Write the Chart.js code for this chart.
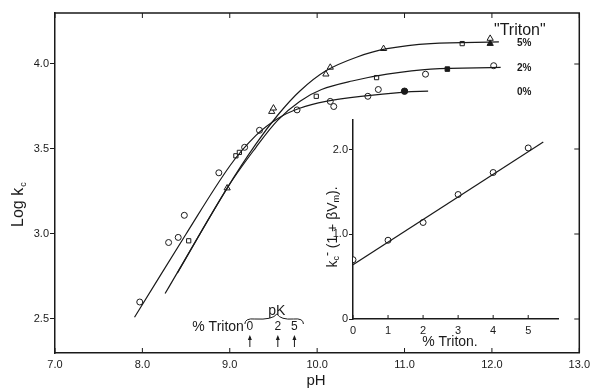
<!DOCTYPE html>
<html>
<head>
<meta charset="utf-8">
<script src="https://cdn.jsdelivr.net/npm/chart.js@4"></script>
<style>
    body { margin: 0; background: #fff; }
    #wrap { position: relative; width: 595px; height: 390px; }
    #mainChart { position: absolute; left: 0; top: 0; }
    #insetChart { position: absolute; left: 300px; top: 100px; }
</style>
</head>
<body>
<div id="wrap">
    <canvas id="mainChart" width="595" height="390"></canvas>
    <canvas id="insetChart" width="280" height="260"></canvas>
</div>
<script>
// main plot: Log k vs pH
const phTicks = [7, 8, 9, 10, 11, 12, 13];
const logkTicks = [2.5, 3.0, 3.5, 4.0];
const tritonLabels = ['5%', '2%', '0%'];
const tritonLabelLogk = [4.13, 3.98, 3.84];

// drawn curves [pH, log k]
const curve0 = [[7.91, 2.51], [8.5, 3.00], [9.0, 3.40], [9.3, 3.58], [9.55, 3.68], [9.8, 3.74], [10.1, 3.78],
    [10.5, 3.81], [11.0, 3.835], [11.27, 3.84]];
const curve2 = [[8.4, 2.77], [8.97, 3.27], [9.3, 3.51], [9.55, 3.67], [9.8, 3.78], [10.05, 3.85],
    [10.4, 3.90], [10.8, 3.94], [11.3, 3.97], [12.1, 3.98]];
const curve5 = [[8.26, 2.65], [8.97, 3.27], [9.3, 3.53], [9.55, 3.70], [9.8, 3.84], [10.1, 3.96],
    [10.45, 4.04], [10.8, 4.09], [11.3, 4.12], [12.08, 4.13]];

// measured points
const openCircles = [[7.97, 2.60], [8.30, 2.95], [8.41, 2.98], [8.48, 3.11], [8.875, 3.36], [9.17, 3.51],
    [9.34, 3.61], [9.77, 3.73], [10.15, 3.78], [10.19, 3.75], [10.58, 3.81], [10.70, 3.85], [11.24, 3.94], [12.02, 3.99]];
const openSquares = [[8.53, 2.96], [9.07, 3.46], [9.11, 3.48], [9.99, 3.81], [10.68, 3.92], [11.66, 4.12]];
const openTriangles = [[8.97, 3.27], [9.48, 3.72], [9.50, 3.74], [10.10, 3.94], [10.15, 3.98], [10.76, 4.09], [11.98, 4.15]];
const filledCircles = [[11.0, 3.84]];
const filledSquares = [[11.49, 3.97]];
const filledTriangles = [[11.98, 4.12]];

// pK arrows
const pKTriton = ['0', '2', '5'];
const pKValues = [9.23, 9.55, 9.74];

// inset: kc - (1 + beta Vm) vs % Triton
const insetTicksX = [0, 1, 2, 3, 4, 5];
const insetTicksY = [0, 1.0, 2.0];
const insetTriton = [0, 1, 2, 3, 4, 5];
const insetValues = [0.70, 0.93, 1.14, 1.47, 1.73, 2.02];
const insetFit = [[0, 0.64], [5.43, 2.09]];

const FONT = '"Liberation Sans", Arial, sans-serif';
const INK = '#1a1a1a';

function pts(arr) {
    return arr.map(p => ({ x: p[0], y: p[1] }));
}

function curveSet(arr) {
    return {
        data: pts(arr),
        showLine: true,
        borderColor: INK,
        borderWidth: 1.2,
        pointRadius: 0,
        tension: 0.35,
        fill: false
    };
}

function markSet(arr, style, filled, r) {
    return {
        data: pts(arr),
        showLine: false,
        pointStyle: style,
        pointRadius: r,
        pointBorderColor: INK,
        pointBackgroundColor: filled ? INK : '#fff',
        pointBorderWidth: 1
    };
}

function fixedTicks(values) {
    return function(scale) {
        scale.ticks = values.map(v => ({ value: v }));
    };
}

const mainDecor = {
    id: 'mainDecor',
    afterDraw(chart) {
        const ctx = chart.ctx;
        const a = chart.chartArea;
        const xs = chart.scales.x;
        const ys = chart.scales.y;
        ctx.save();
        ctx.strokeStyle = INK;
        ctx.fillStyle = INK;

        // frame top and right
        ctx.lineWidth = 1.5;
        ctx.beginPath();
        ctx.moveTo(a.left, a.top);
        ctx.lineTo(a.right, a.top);
        ctx.lineTo(a.right, a.bottom);
        ctx.stroke();

        // inward ticks on bottom, top and right
        ctx.lineWidth = 1;
        ctx.beginPath();
        phTicks.forEach(v => {
            const px = xs.getPixelForValue(v);
            ctx.moveTo(px, a.bottom);
            ctx.lineTo(px, a.bottom - 5);
            ctx.moveTo(px, a.top);
            ctx.lineTo(px, a.top + 5);
        });
        logkTicks.forEach(v => {
            const py = ys.getPixelForValue(v);
            ctx.moveTo(a.right, py);
            ctx.lineTo(a.right - 5, py);
        });
        ctx.stroke();

        // axis titles
        ctx.textBaseline = 'middle';
        ctx.textAlign = 'center';
        ctx.font = '15px ' + FONT;
        ctx.fillText('pH', 316, 381);

        ctx.save();
        ctx.translate(19, 203);
        ctx.rotate(-Math.PI / 2);
        ctx.textAlign = 'left';
        ctx.font = '16px ' + FONT;
        const t1 = 'Log k';
        const w1 = ctx.measureText(t1).width;
        ctx.fillText(t1, -24, 0);
        ctx.font = '9px ' + FONT;
        ctx.fillText('c', -24 + w1 + 1, 5);
        ctx.restore();

        // legend of curves
        ctx.font = '16px ' + FONT;
        ctx.textAlign = 'left';
        ctx.fillText('"Triton"', 494, 31);
        ctx.font = 'bold 10px ' + FONT;
        tritonLabels.forEach((t, i) => {
            ctx.fillText(t, 517, ys.getPixelForValue(tritonLabelLogk[i]) + 1);
        });

        // pK annotation
        const ax = pKValues.map(v => xs.getPixelForValue(v));
        ctx.font = '14px ' + FONT;
        ctx.textAlign = 'right';
        ctx.fillText('% Triton', ax[0] - 6, 327);
        ctx.font = '12px ' + FONT;
        ctx.textAlign = 'center';
        pKTriton.forEach((t, i) => ctx.fillText(t, ax[i], 327));
        ctx.font = '14px ' + FONT;
        ctx.fillText('pK', ax[1] - 1, 311);

        // brace over the labels
        const bl = ax[0] - 5, br = ax[2] + 9, bm = ax[1] - 1;
        ctx.lineWidth = 1;
        ctx.beginPath();
        ctx.moveTo(bl, 324);
        ctx.quadraticCurveTo(bl, 318, bl + 10, 319);
        ctx.quadraticCurveTo(bm - 4, 320, bm, 314);
        ctx.quadraticCurveTo(bm + 4, 320, br - 10, 319);
        ctx.quadraticCurveTo(br, 318, br, 324);
        ctx.stroke();

        // arrows
        ax.forEach(px => {
            ctx.beginPath();
            ctx.moveTo(px, 347);
            ctx.lineTo(px, 337);
            ctx.stroke();
            ctx.beginPath();
            ctx.moveTo(px, 335);
            ctx.lineTo(px - 2, 340);
            ctx.lineTo(px + 2, 340);
            ctx.closePath();
            ctx.fill();
        });
        ctx.restore();
    }
};

const mainChart = new Chart(document.getElementById('mainChart'), {
    type: 'scatter',
    data: {
        datasets: [
            curveSet(curve0),
            curveSet(curve2),
            curveSet(curve5),
            markSet(openCircles, 'circle', false, 3),
            markSet(openSquares, 'rect', false, 3),
            markSet(openTriangles, 'triangle', false, 3.6),
            markSet(filledCircles, 'circle', true, 3.2),
            markSet(filledSquares, 'rect', true, 3.2),
            markSet(filledTriangles, 'triangle', true, 3.6)
        ]
    },
    options: {
        responsive: false,
        animation: false,
        devicePixelRatio: 1,
        layout: { padding: { left: 0, right: 12, top: 13, bottom: 0 } },
        plugins: { legend: { display: false }, tooltip: { enabled: false } },
        scales: {
            x: {
                type: 'linear',
                min: 7,
                max: 13,
                afterBuildTicks: fixedTicks(phTicks),
                afterFit: s => { s.height = 37; },
                grid: { drawOnChartArea: false, drawTicks: false },
                border: { display: true, color: INK, width: 1.5 },
                ticks: {
                    padding: 5,
                    color: INK,
                    font: { family: FONT, size: 11 },
                    callback: v => v.toFixed(1)
                }
            },
            y: {
                type: 'linear',
                min: 2.3,
                max: 4.3,
                afterBuildTicks: fixedTicks(logkTicks),
                afterFit: s => { s.width = 55; },
                grid: { drawOnChartArea: false, drawTicks: true, tickLength: 5, color: INK },
                border: { display: true, color: INK, width: 1.5 },
                ticks: {
                    padding: 1,
                    color: INK,
                    font: { family: FONT, size: 11 },
                    callback: v => v.toFixed(1)
                }
            }
        }
    },
    plugins: [mainDecor]
});

const insetDecor = {
    id: 'insetDecor',
    afterDraw(chart) {
        const ctx = chart.ctx;
        const a = chart.chartArea;
        const xs = chart.scales.x;
        ctx.save();
        ctx.strokeStyle = INK;
        ctx.fillStyle = INK;
        // inward ticks on the bottom axis
        ctx.lineWidth = 1;
        ctx.beginPath();
        insetTicksX.forEach(v => {
            const px = xs.getPixelForValue(v);
            ctx.moveTo(px, a.bottom);
            ctx.lineTo(px, a.bottom - 4);
        });
        ctx.stroke();

        ctx.textBaseline = 'middle';
        ctx.textAlign = 'center';
        ctx.font = '14px ' + FONT;
        ctx.fillText('% Triton.', 150, 242);

        // y title: kc - (1 + βVm).
        ctx.translate(33, 127);
        ctx.rotate(-Math.PI / 2);
        ctx.textAlign = 'left';
        const parts = [['k', 14, 0], ['c', 9, 4], ['-', 12, -5], [' (1 + βV', 14, 0], ['m', 9, 4], [').', 14, 0]];
        let total = 0;
        parts.forEach(p => { ctx.font = p[1] + 'px ' + FONT; total += ctx.measureText(p[0]).width; });
        let cx = -total / 2;
        parts.forEach(p => {
            ctx.font = p[1] + 'px ' + FONT;
            ctx.fillText(p[0], cx, p[2]);
            cx += ctx.measureText(p[0]).width;
        });
        ctx.restore();
    }
};

const insetChart = new Chart(document.getElementById('insetChart'), {
    type: 'scatter',
    data: {
        datasets: [
            {
                data: pts(insetFit),
                showLine: true,
                borderColor: INK,
                borderWidth: 1.2,
                pointRadius: 0
            },
            markSet(insetTriton.map((t, i) => [t, insetValues[i]]), 'circle', false, 3)
        ]
    },
    options: {
        responsive: false,
        animation: false,
        devicePixelRatio: 1,
        layout: { padding: { left: 0, right: 22, top: 20, bottom: 0 } },
        plugins: { legend: { display: false }, tooltip: { enabled: false } },
        scales: {
            x: {
                type: 'linear',
                min: 0,
                max: 5.85,
                afterBuildTicks: fixedTicks(insetTicksX),
                afterFit: s => { s.height = 41; },
                grid: { drawOnChartArea: false, drawTicks: false },
                border: { display: true, color: INK, width: 1.5 },
                ticks: {
                    padding: 5,
                    color: INK,
                    font: { family: FONT, size: 11 },
                    callback: v => String(v)
                }
            },
            y: {
                type: 'linear',
                min: 0,
                max: 2.35,
                afterBuildTicks: fixedTicks(insetTicksY),
                afterFit: s => { s.width = 53; },
                grid: { drawOnChartArea: false, drawTicks: true, tickLength: 4, color: INK },
                border: { display: true, color: INK, width: 1.5 },
                ticks: {
                    padding: 1,
                    color: INK,
                    font: { family: FONT, size: 11 },
                    callback: v => v === 0 ? '0' : v.toFixed(1)
                }
            }
        }
    },
    plugins: [insetDecor]
});
</script>
</body>
</html>
